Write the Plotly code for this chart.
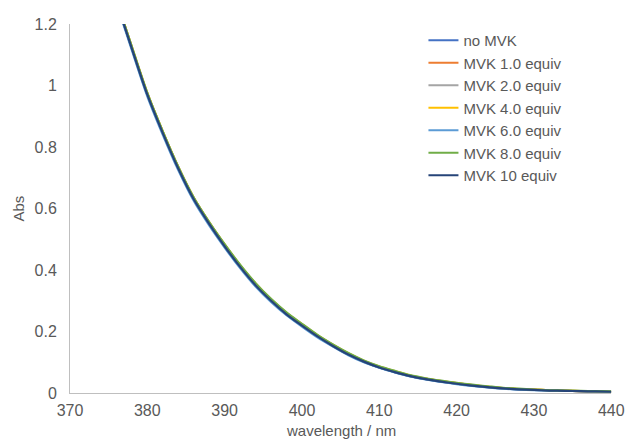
import plotly.graph_objects as go

wavelength = [370, 372, 374, 376, 378, 380, 382, 384, 386, 388, 390, 392, 394, 396, 398,
              400, 402, 404, 406, 408, 410, 412, 414, 416, 418, 420, 422, 424, 426, 428,
              430, 432, 434, 436, 438, 440]

abs_no_mvk = [1.90, 1.66, 1.45, 1.275, 1.12, 0.97, 0.845, 0.73, 0.63, 0.55, 0.477, 0.41, 0.35, 0.30, 0.256,
              0.219, 0.184, 0.153, 0.125, 0.102, 0.083, 0.068, 0.055, 0.045, 0.037, 0.030, 0.024, 0.019, 0.015, 0.012,
              0.010, 0.008, 0.007, 0.006, 0.005, 0.004]
abs_mvk_1 = [1.91, 1.67, 1.46, 1.28, 1.125, 0.975, 0.85, 0.735, 0.635, 0.555, 0.482, 0.415, 0.355, 0.304, 0.260,
             0.223, 0.187, 0.156, 0.128, 0.104, 0.085, 0.070, 0.057, 0.047, 0.039, 0.032, 0.026, 0.020, 0.016, 0.013,
             0.011, 0.009, 0.008, 0.006, 0.005, 0.004]
abs_mvk_2 = [1.91, 1.67, 1.46, 1.28, 1.124, 0.974, 0.849, 0.734, 0.634, 0.554, 0.481, 0.414, 0.354, 0.303, 0.259,
             0.222, 0.186, 0.155, 0.127, 0.103, 0.084, 0.069, 0.056, 0.046, 0.038, 0.031, 0.025, 0.020, 0.015, 0.012,
             0.010, 0.009, 0.007, 0.006, 0.005, 0.004]
abs_mvk_4 = [1.91, 1.67, 1.46, 1.28, 1.125, 0.975, 0.85, 0.735, 0.635, 0.555, 0.483, 0.416, 0.356, 0.305, 0.261,
             0.224, 0.188, 0.157, 0.129, 0.105, 0.086, 0.071, 0.057, 0.047, 0.039, 0.032, 0.026, 0.021, 0.016, 0.013,
             0.011, 0.009, 0.008, 0.006, 0.005, 0.004]
abs_mvk_6 = [1.89, 1.65, 1.44, 1.27, 1.115, 0.965, 0.84, 0.725, 0.625, 0.545, 0.473, 0.406, 0.346, 0.296, 0.253,
             0.216, 0.181, 0.151, 0.123, 0.100, 0.082, 0.067, 0.054, 0.044, 0.036, 0.029, 0.023, 0.018, 0.014, 0.011,
             0.009, 0.008, 0.007, 0.006, 0.005, 0.004]
abs_mvk_8 = [1.91, 1.67, 1.46, 1.28, 1.126, 0.976, 0.851, 0.736, 0.636, 0.556, 0.484, 0.417, 0.357, 0.306, 0.262,
             0.225, 0.189, 0.158, 0.130, 0.106, 0.087, 0.072, 0.058, 0.048, 0.040, 0.033, 0.027, 0.022, 0.017, 0.014,
             0.011, 0.009, 0.008, 0.007, 0.006, 0.005]
abs_mvk_10 = [1.90, 1.66, 1.45, 1.275, 1.12, 0.97, 0.845, 0.73, 0.63, 0.55, 0.477, 0.41, 0.35, 0.30, 0.256,
              0.219, 0.184, 0.153, 0.125, 0.102, 0.083, 0.068, 0.055, 0.045, 0.037, 0.030, 0.024, 0.019, 0.015, 0.012,
              0.010, 0.008, 0.007, 0.006, 0.005, 0.004]

series_names = ["no MVK", "MVK 1.0 equiv", "MVK 2.0 equiv", "MVK 4.0 equiv",
                "MVK 6.0 equiv", "MVK 8.0 equiv", "MVK 10 equiv"]
series_values = [abs_no_mvk, abs_mvk_1, abs_mvk_2, abs_mvk_4, abs_mvk_6, abs_mvk_8, abs_mvk_10]
series_colors = ["#4472C4", "#ED7D31", "#A5A5A5", "#FFC000", "#5B9BD5", "#70AD47", "#264478"]

x_ticks = [370, 380, 390, 400, 410, 420, 430, 440]
y_ticks = [0, 0.2, 0.4, 0.6, 0.8, 1.0, 1.2]
y_tick_labels = ["0", "0.2", "0.4", "0.6", "0.8", "1", "1.2"]

FONT = "Liberation Sans, Arial, Helvetica, sans-serif"
TXT = "#595959"

fig = go.Figure()
for name, vals, col in zip(series_names, series_values, series_colors):
    fig.add_trace(go.Scatter(x=wavelength, y=vals, mode="lines", name=name,
                             line=dict(color=col, width=2.2, shape="spline", smoothing=0.8)))

fig.update_layout(
    width=637, height=439,
    margin=dict(l=70, r=0, t=24, b=46),
    paper_bgcolor="white", plot_bgcolor="white",
    font=dict(family=FONT, size=16, color=TXT),
    showlegend=True,
    legend=dict(x=0.638, y=1.0, xanchor="left", yanchor="top",
                font=dict(family=FONT, size=15, color=TXT),
                bgcolor="rgba(0,0,0,0)", tracegroupgap=0, itemwidth=30),
    xaxis=dict(domain=[0, 0.977], range=[370, 440], tickvals=x_ticks, showgrid=False, zeroline=False,
               showline=True, linecolor="#BFBFBF", linewidth=1, ticks="",
               ticklabeloverflow="allow",
               tickfont=dict(family=FONT, size=16, color=TXT), ticklabelstandoff=3),
    yaxis=dict(range=[0, 1.2], tickvals=y_ticks, ticktext=y_tick_labels, showgrid=False,
               zeroline=False, showline=True, linecolor="#BFBFBF", linewidth=1, ticks="",
               ticklabeloverflow="allow",
               tickfont=dict(family=FONT, size=16, color=TXT), ticklabelstandoff=9),
    annotations=[
        dict(text="wavelength / nm", xref="paper", yref="paper", x=0.4885, y=0,
             xanchor="center", yanchor="middle", yshift=-37, showarrow=False,
             font=dict(family=FONT, size=15, color=TXT)),
        dict(text="Abs", xref="paper", yref="paper", x=0, y=0.5, textangle=-90,
             xanchor="center", yanchor="middle", xshift=-52, showarrow=False,
             font=dict(family=FONT, size=15, color=TXT)),
    ],
)

fig.write_html("out.html")
